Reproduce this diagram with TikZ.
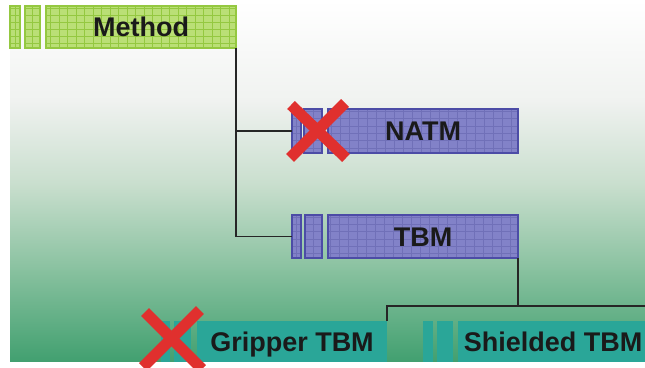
\documentclass[tikz,border=0pt]{standalone}
\usepackage{fontspec}
\setmainfont{Liberation Sans}
\definecolor{mgreen}{HTML}{BADF76}
\definecolor{mgreenline}{HTML}{94C840}
\definecolor{mblue}{HTML}{8282C8}
\definecolor{mblueline}{HTML}{4C4CA6}
\definecolor{mteal}{HTML}{2AA698}
\definecolor{xred}{HTML}{E0302E}
\definecolor{txt}{HTML}{1A1A1A}
\definecolor{bga}{HTML}{FFFFFF}
\definecolor{bgb}{HTML}{F0F2F0}
\definecolor{bgc}{HTML}{C8DECD}
\definecolor{bgd}{HTML}{88C19F}
\definecolor{bge}{HTML}{42A070}
\begin{document}
\begin{tikzpicture}[x=1pt,y=-1pt,
  box/.style={rectangle, inner sep=0pt, outer sep=0pt, anchor=north west,
    font=\fontsize{27}{30}\selectfont\bfseries, text=txt,
    text height=19.3pt, text depth=0pt},
  gbox/.style={box, fill=mgreen, draw=mgreenline, line width=1.2pt,
    path picture={\draw[mgreenline, line width=0.6pt]
      (path picture bounding box.south west) grid[xstep=8.5pt,ystep=7pt]
      (path picture bounding box.north east);}},
  bbox/.style={box, fill=mblue, draw=mblueline, line width=1.2pt,
    path picture={\draw[mblueline!80, line width=0.7pt]
      (path picture bounding box.south west) grid[xstep=9pt,ystep=7.3pt]
      (path picture bounding box.north east);}},
  tbox/.style={box, fill=mteal},
  conn/.style={draw=black!85, line width=1.4pt},
  cross/.style={xred, line width=11pt, line cap=butt}]
\useasboundingbox (0,0) rectangle (645,367);
\clip (0,0) rectangle (645,367);
\fill[white] (0,0) rectangle (645,367);
% background gradient
\shade[top color=bga, bottom color=bgb] (10,0) rectangle (645,101);
\shade[top color=bgb, bottom color=bgc] (10,100) rectangle (645,186);
\shade[top color=bgc, bottom color=bgd] (10,185) rectangle (645,271);
\shade[top color=bgd, bottom color=bge] (10,270) rectangle (645,361);
% Method
\node[gbox, minimum width=10pt, minimum height=42pt] (mbar1) at (10,6) {};
\node[gbox, minimum width=15pt, minimum height=42pt] (mbar2) at (25,6) {};
\node[gbox, minimum width=190pt, minimum height=42pt] (method) at (46,6) {Method};
% NATM
\node[bbox, minimum width=9pt, minimum height=44pt] (nbar1) at (292,109) {};
\node[bbox, minimum width=18pt, minimum height=44pt] (nbar2) at (304,109) {};
\node[bbox, minimum width=190pt, minimum height=44pt] (natm) at (328,109) {NATM};
% TBM
\node[bbox, minimum width=9pt, minimum height=43pt] (tbar1) at (292,215) {};
\node[bbox, minimum width=17pt, minimum height=43pt] (tbar2) at (305,215) {};
\node[bbox, minimum width=190pt, minimum height=43pt] (tbm) at (328,215) {TBM};
% Gripper TBM
\node[tbox, minimum width=9pt, minimum height=41pt] (gbar1) at (161,321) {};
\node[tbox, minimum width=17pt, minimum height=41pt] (gbar2) at (174,321) {};
\node[tbox, minimum width=190pt, minimum height=41pt] (gripper) at (197,321) {Gripper TBM};
% Shielded TBM
\node[tbox, minimum width=10pt, minimum height=41pt] (sbar1) at (423,321) {};
\node[tbox, minimum width=16pt, minimum height=41pt] (sbar2) at (437,321) {};
\node[tbox, minimum width=190pt, minimum height=41pt] (shielded) at (458,321) {Shielded TBM};
% connectors
\draw[conn] (method.south east) -- (method.south east |- tbar1.west) -- (tbar1.west);
\draw[conn] (method.south east |- nbar1.west) -- (nbar1.west);
\coordinate (tj) at (tbm.south east |- 0,306);
\coordinate (rend) at (645,306);
\draw[conn] (tbm.south east) -- (tj);
\draw[conn] (gripper.north east) |- (rend);
% crosses
\draw[cross] (291,105) -- (346,158);
\draw[cross] (345,103) -- (290,158);
\draw[cross] (145,312) -- (202,369);
\draw[cross] (200,310) -- (143,367);
\end{tikzpicture}
\end{document}
